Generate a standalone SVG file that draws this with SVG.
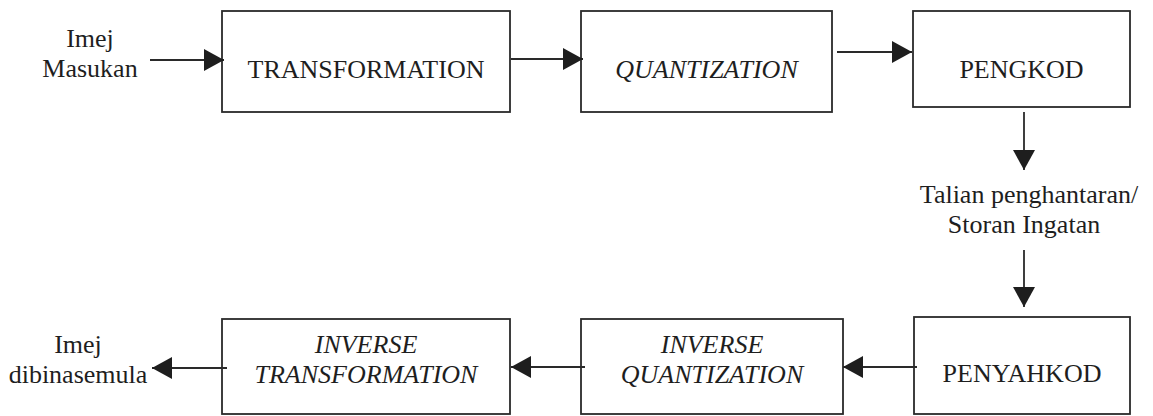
<svg xmlns="http://www.w3.org/2000/svg" width="1153" height="416" viewBox="0 0 1153 416">
<defs>
<marker id="ah" markerUnits="userSpaceOnUse" markerWidth="22" markerHeight="22" viewBox="0 0 20 22" refX="20" refY="11" orient="auto">
<path d="M0,0 L20,11 L0,22 Z" fill="#1e1e1e"/>
</marker>
</defs>
<style>
.box{fill:#fff;stroke:#2a2a2a;stroke-width:1.8}
.t{font-family:"Liberation Serif","Times New Roman",serif;font-size:26px;fill:#1e1e1e;text-anchor:middle}
.i{font-style:italic}
.c{stroke:#2a2a2a;stroke-width:1.8;fill:none;marker-end:url(#ah)}
</style>
<rect width="1153" height="416" fill="#fff"/>
<g id="input">
<text class="t" x="90" y="47">Imej</text>
<text class="t" x="90" y="77">Masukan</text>
</g>
<g id="transformation">
<rect class="box" x="222" y="11" width="288" height="101"/>
<text class="t" x="366" y="78">TRANSFORMATION</text>
</g>
<g id="quantization">
<rect class="box" x="581" y="11" width="251" height="101"/>
<text class="t i" x="706.5" y="78">QUANTIZATION</text>
</g>
<g id="pengkod">
<rect class="box" x="913" y="11" width="217" height="96"/>
<text class="t" x="1021.5" y="78">PENGKOD</text>
</g>
<g id="channel">
<text class="t" x="1029" y="203">Talian penghantaran/</text>
<text class="t" x="1024" y="233">Storan Ingatan</text>
</g>
<g id="penyahkod">
<rect class="box" x="914" y="317" width="216" height="97"/>
<text class="t" x="1022" y="382">PENYAHKOD</text>
</g>
<g id="inverse-quantization">
<rect class="box" x="581" y="319" width="262" height="95"/>
<text class="t i" x="712" y="353">INVERSE</text>
<text class="t i" x="712" y="383">QUANTIZATION</text>
</g>
<g id="inverse-transformation">
<rect class="box" x="222" y="319" width="288" height="95"/>
<text class="t i" x="366" y="353">INVERSE</text>
<text class="t i" x="366" y="383">TRANSFORMATION</text>
</g>
<g id="output">
<text class="t" x="78" y="353">Imej</text>
<text class="t" x="78" y="383">dibinasemula</text>
</g>
<g id="connectors">
<line class="c" x1="150" y1="60" x2="224" y2="60"/>
<line class="c" x1="511" y1="59" x2="583" y2="59"/>
<line class="c" x1="837" y1="52" x2="912" y2="52"/>
<line class="c" x1="1024" y1="112" x2="1024" y2="170"/>
<line class="c" x1="1024" y1="250" x2="1024" y2="307"/>
<line class="c" x1="917" y1="367" x2="843" y2="367"/>
<line class="c" x1="585" y1="367" x2="511" y2="367"/>
<line class="c" x1="227" y1="368" x2="152" y2="368"/>
</g>
</svg>
